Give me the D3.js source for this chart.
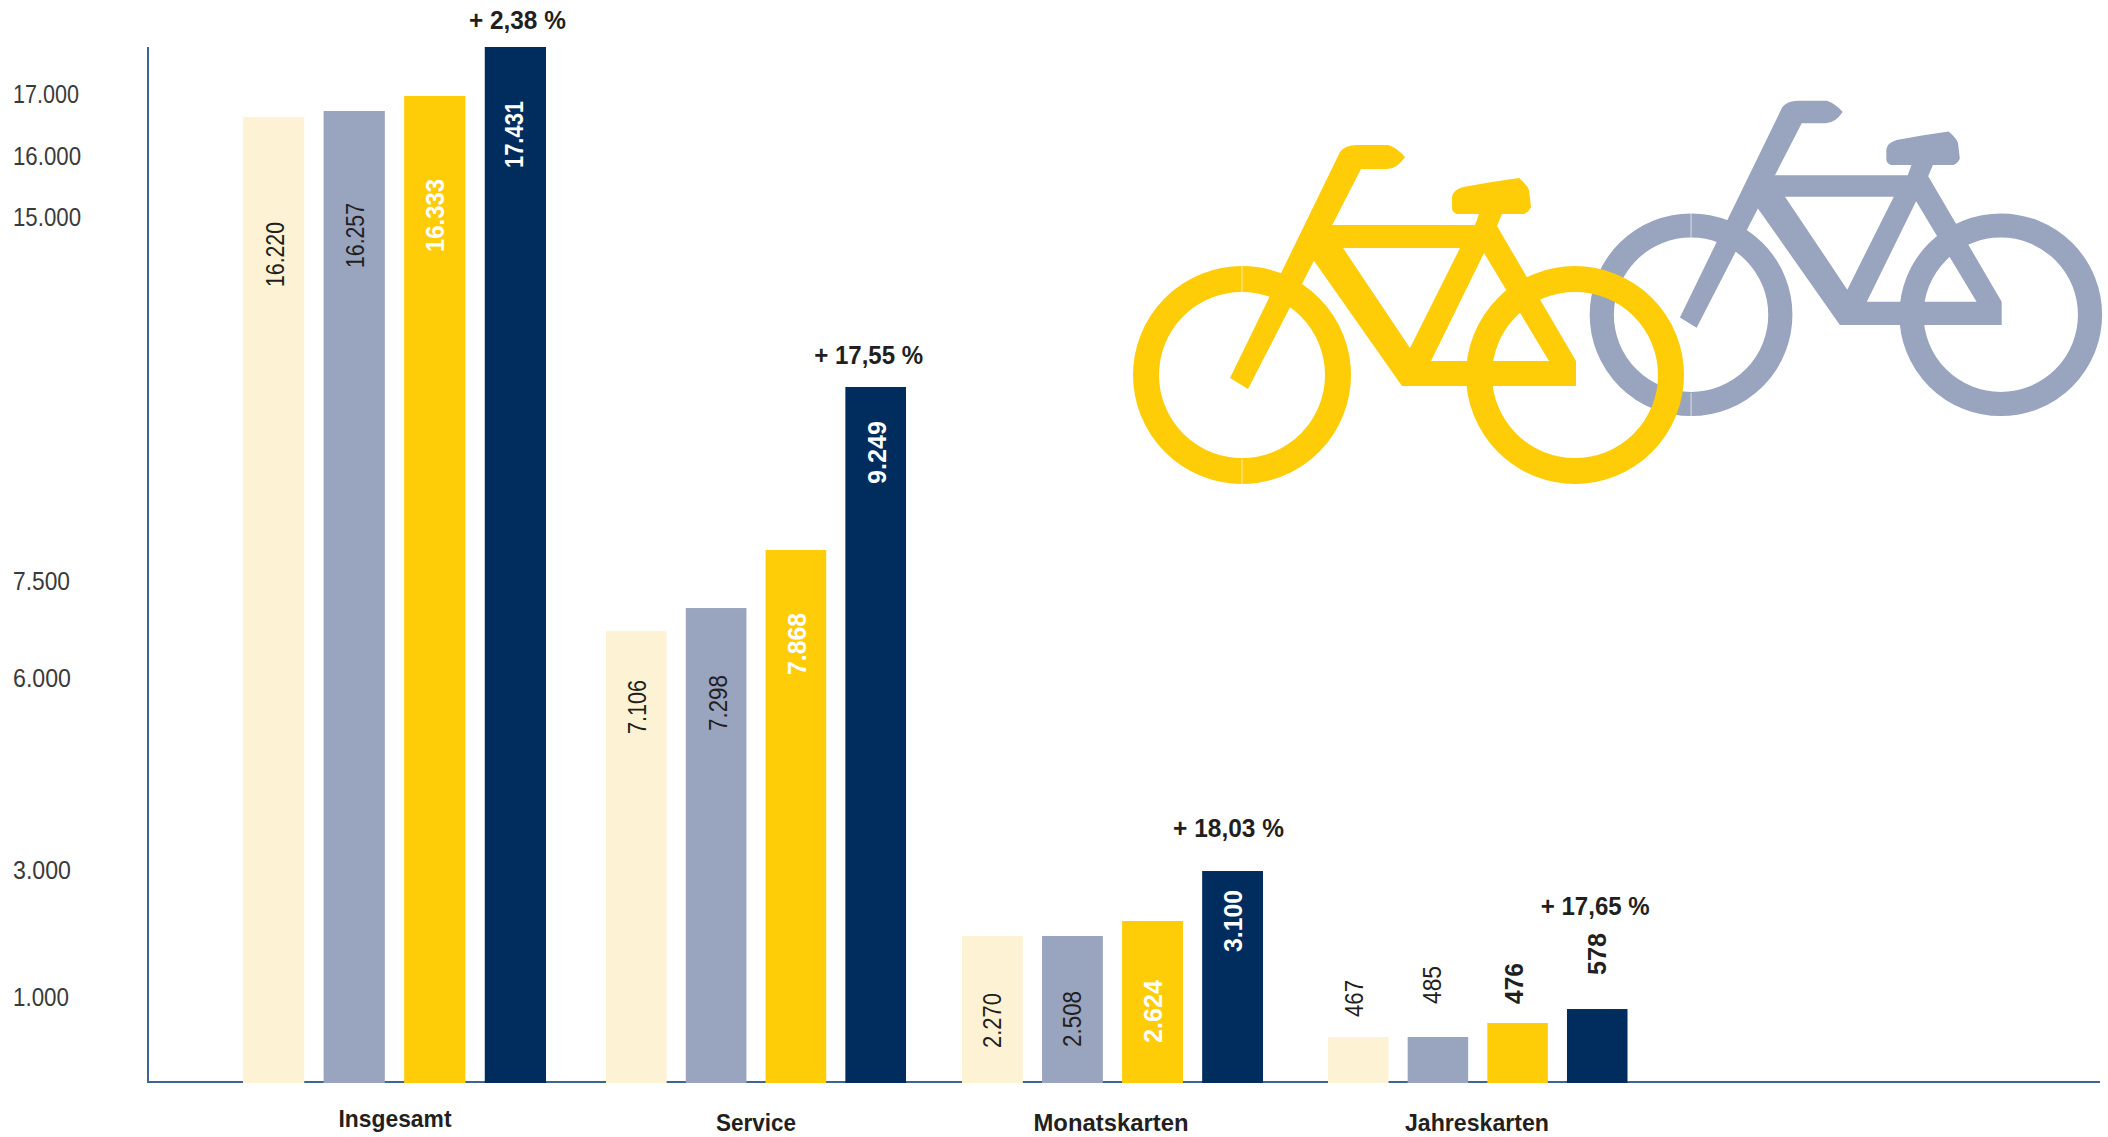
<!DOCTYPE html>
<html>
<head>
<meta charset="utf-8">
<script src="https://cdn.jsdelivr.net/npm/d3@7"></script>
<style>
  html, body { margin: 0; padding: 0; background: #fff; }
  svg { display: block; }
</style>
</head>
<body>
<div id="chart"></div>
<script>
const categories = ['Insgesamt', 'Service', 'Monatskarten', 'Jahreskarten'];
const seriesKeys = ['a', 'b', 'c', 'd'];
const tickValues = [1000, 3000, 6000, 7500, 15000, 16000, 17000];
const pctLabels = ['+ 2,38 %', '+ 17,55 %', '+ 18,03 %', '+ 17,65 %'];

// numbers printed on the bars
const printedA = ['16.220', '7.106', '2.270', '467'];
const printedB = ['16.257', '7.298', '2.508', '485'];
const printedC = ['16.333', '7.868', '2.624', '476'];
const printedD = ['17.431', '9.249', '3.100', '578'];

// bar heights as read against the axis, the source does not draw them to the printed numbers
const heightA = [16629, 6727, 1961, 535];
const heightB = [16726, 7082, 1961, 535];
const heightC = [16968, 8139, 2197, 698];
const heightD = [17758, 11497, 2984, 860];

const printed = [printedA, printedB, printedC, printedD];
const heights = [heightA, heightB, heightC, heightD];

const colors = ['#fdf2d3', '#99a4bf', '#ffcc08', '#002d5d'];
const narrow = '"Liberation Sans Narrow", "Liberation Sans", sans-serif';
const textDark = '#231f20';

const width = 2108, height = 1137;
const svg = d3.select('#chart').append('svg').attr('width', width).attr('height', height);

// the axis is broken up in the source, so the scale is piecewise
const y = d3.scaleLinear()
  .domain([0, 1000, 3000, 6000, 7500, 15000, 16000, 17000, 18000])
  .range([1083, 997, 870, 678, 581, 217, 156, 94, 32]);
const groupX = d3.scaleOrdinal().domain(categories).range([243, 606, 962, 1328]);
// bars sit a little wider apart in the first group
const groupSpan = [303, 300, 301, 299.5];
const barScales = groupSpan.map(s => d3.scaleBand().domain(seriesKeys).range([0, s]).paddingInner(0.24));
const barLeft = (si, i) => groupX(categories[i]) + barScales[i](seriesKeys[si]);
const barW = i => barScales[i].bandwidth();

// label layout, per series then per category
const labelDrop = [[170, 103, 112, -20], [157, 123, 111, -33], [156, 125, 122, -19], [121, 97, 81, -34]];
const labelLen = [[65, 54, 55, 37], [65, 56, 56, 38], [73, 62, 63, 41], [67, 63, 62, 42]];
const labelNudge = [[1, 1, 0, -4], [1, 2, 0, -6], [0, 1, 0, -4], [-1, 1, 0, 0]];
const tickLen = { 1000: 56, 3000: 58, 6000: 58, 7500: 57, 15000: 68, 16000: 68, 17000: 66 };
const pctRise = [27, 32, 43, 103];
const pctShift = [2, -7, -4, -2];
const pctLen = [97, 109, 111, 109];
const catCenter = [395, 756, 1111, 1477];
const catY = [1119, 1123, 1123, 1123];
const catLen = [113, 80, 155, 144];

// bicycles first so the bars stay clean
function drawBike(g, color) {
  const frame = 'M1330,225 L1475,225 L1479,214 L1457,214 Q1452,212 1452,208 L1452,197 Q1453,190 1463,187 '
    + 'L1492,182 L1519,178 Q1527,185 1529,190 L1531,207 Q1529,212 1524,214 L1502,214 L1497,226 L1576,361 '
    + 'L1576,386 L1402,386 L1312,258 Z M1343,248 L1460,248 L1410,348 Z M1484,253 L1549,361 L1431,361 Z';
  const fork = 'M1230,378 L1340,152 Q1345,145 1357,145 L1388,145 Q1396,147 1405,157 Q1397,169 1387,169 '
    + 'L1361,169 L1248,389 Z';
  g.append('path').attr('d', frame).attr('fill', color).attr('fill-rule', 'evenodd');
  g.append('path').attr('d', fork).attr('fill', color);
  [[1242, 375], [1575, 375]].forEach(([cx, cy]) => {
    g.append('circle').attr('cx', cx).attr('cy', cy).attr('r', 96)
      .attr('fill', 'none').attr('stroke', color).attr('stroke-width', 26);
  });
  // hairlines in the front wheel
  [[266, 293], [459, 484]].forEach(([a, b]) => {
    g.append('line').attr('x1', 1242).attr('x2', 1242).attr('y1', a).attr('y2', b)
      .attr('stroke', '#fff').attr('stroke-width', 0.7);
  });
}
drawBike(svg.append('g').attr('transform', 'translate(536,-34) scale(0.93)'), colors[1]);
drawBike(svg.append('g'), colors[2]);

// bars
heights.forEach((vals, si) => {
  svg.append('g').selectAll('rect').data(vals).join('rect')
    .attr('x', (d, i) => barLeft(si, i))
    .attr('y', d => y(d))
    .attr('width', (d, i) => barW(i))
    .attr('height', d => y(0) - y(d))
    .attr('fill', colors[si]);
});

// axes
const yAxis = d3.axisLeft(y).tickValues(tickValues).tickSize(0)
  .tickFormat(d => d3.format(',')(d).replace(',', '.'));
const axisG = svg.append('g').attr('transform', 'translate(148,0)').call(yAxis);
axisG.select('.domain').remove();
axisG.selectAll('text')
  .attr('x', -135).attr('text-anchor', 'start')
  .attr('font-family', narrow).attr('font-size', 25).attr('fill', '#3a3a3a')
  .attr('textLength', d => tickLen[d]).attr('lengthAdjust', 'spacingAndGlyphs');

svg.append('line').attr('x1', 148).attr('x2', 148).attr('y1', y(17758)).attr('y2', y(0))
  .attr('stroke', '#3f6690').attr('stroke-width', 2);
svg.insert('line', 'g').attr('x1', 147).attr('x2', 2100).attr('y1', y(0) - 1).attr('y2', y(0) - 1)
  .attr('stroke', '#3f6690').attr('stroke-width', 2);

// rotated values
printed.forEach((vals, si) => {
  svg.append('g').selectAll('text').data(vals).join('text')
    .attr('transform', (d, i) => {
      const cx = barLeft(si, i) + barW(i) / 2 + labelNudge[si][i];
      return `translate(${cx + 9},${y(heights[si][i]) + labelDrop[si][i]}) rotate(-90)`;
    })
    .attr('font-family', narrow).attr('font-size', 26)
    .attr('font-weight', si >= 2 ? 700 : 400)
    .attr('textLength', (d, i) => labelLen[si][i])
    .attr('lengthAdjust', 'spacingAndGlyphs')
    .attr('fill', (d, i) => (si >= 2 && i < 3) ? '#fff' : textDark)
    .text(d => d);
});

// percentages above the last bar
svg.append('g').selectAll('text').data(pctLabels).join('text')
  .attr('x', (d, i) => barLeft(3, i) + barW(i) / 2 + pctShift[i])
  .attr('y', (d, i) => y(heightD[i]) - pctRise[i])
  .attr('dy', '0.35em')
  .attr('text-anchor', 'middle')
  .attr('font-family', narrow).attr('font-size', 25).attr('font-weight', 700)
  .attr('textLength', (d, i) => pctLen[i]).attr('lengthAdjust', 'spacingAndGlyphs')
  .attr('fill', textDark)
  .text(d => d);

// category names
svg.append('g').selectAll('text').data(categories).join('text')
  .attr('x', (d, i) => catCenter[i])
  .attr('y', (d, i) => catY[i])
  .attr('dy', '0.35em')
  .attr('text-anchor', 'middle')
  .attr('font-family', narrow).attr('font-size', 24).attr('font-weight', 700)
  .attr('textLength', (d, i) => catLen[i]).attr('lengthAdjust', 'spacingAndGlyphs')
  .attr('fill', textDark)
  .text(d => d);
</script>
</body>
</html>
